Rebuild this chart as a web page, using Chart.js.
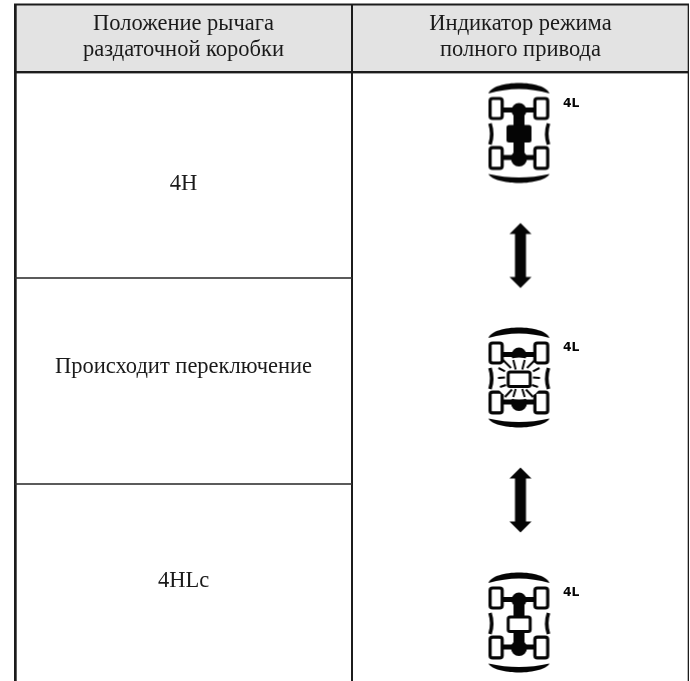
<!DOCTYPE html>
<html lang="ru">
<head>
<meta charset="utf-8">
<title>Индикатор режима полного привода</title>
<style>
  html, body { margin: 0; background: #fff; }
  canvas { display: block; filter: blur(0.35px); } /* the scan is a little soft */
</style>
</head>
<body>
<canvas id="chart" width="690" height="681"></canvas>
<script src="https://cdn.jsdelivr.net/npm/chart.js@4"></script>
<script>
/* DATA */
const columns = ["Положение рычага раздаточной коробки", "Индикатор режима полного привода"];
const headerLines = [
  ["Положение рычага", "раздаточной коробки"],
  ["Индикатор режима", "полного привода"],
];
const rowLabels = ["4H", "Происходит переключение", "4HLc"];
const rowLabelBaselines = [190, 373, 587];

// stacked row heights, one value per column (the right column is one merged cell)
const topMargin = [4, 4];
const headerRow = [68, 68];
const row4H = [206, 609];
const rowSwitching = [206, 0];
const row4HLc = [197, 0];

const indicatorLabel = "4L";
const iconCentres = [133.5, 378, 623];
const arrowCentres = [255.5, 500];

/* ICONS */
const ink = "#050505";

function roundBox(c, x, y, w, h, r) {
  c.beginPath();
  c.roundRect(x, y, w, h, r);
}

function makeIcon(state) {
  const cv = document.createElement("canvas");
  cv.width = 80;
  cv.height = 120;
  const c = cv.getContext("2d");
  c.translate(38.5, 60);
  c.fillStyle = ink;
  c.strokeStyle = ink;

  // body arcs
  c.beginPath();
  c.moveTo(-30.5, -40);
  c.bezierCurveTo(-28, -47, -14, -50.5, 0, -50.5);
  c.bezierCurveTo(14, -50.5, 28, -47, 30.5, -40);
  c.bezierCurveTo(20, -43, 10, -44.5, 0, -44.5);
  c.bezierCurveTo(-10, -44.5, -20, -43, -30.5, -40);
  c.fill();
  c.beginPath();
  c.moveTo(-30.5, 40.5);
  c.bezierCurveTo(-28, 46, -14, 49.5, 0, 49.5);
  c.bezierCurveTo(14, 49.5, 28, 46, 30.5, 40.5);
  c.bezierCurveTo(20, 43, 10, 44, 0, 44);
  c.bezierCurveTo(-10, 44, -20, 43, -30.5, 40.5);
  c.fill();

  // side pieces
  c.lineWidth = 3.6;
  c.beginPath();
  c.moveTo(-29, -10);
  c.quadraticCurveTo(-25.5, 0.5, -29, 11);
  c.moveTo(29.5, -10);
  c.quadraticCurveTo(26, 0.5, 29.5, 11);
  c.stroke();

  // axles, spine and diff housings
  c.fillRect(-16, -26, 32, 5);
  c.fillRect(-16, 21.5, 32, 5);
  c.fillRect(-5.5, -23, 11, 47);
  c.beginPath();
  c.arc(0, -23, 7.5, 0, Math.PI * 2);
  c.arc(0, 25, 8, 0, Math.PI * 2);
  c.fill();

  // wheels
  c.lineWidth = 3.2;
  [[-28.9, -35, 12.1, 20], [15.9, -35, 12.8, 20], [-28.9, 14.1, 12.1, 20.8], [15.9, 14.1, 12.8, 20.8]].forEach(([x, y, w, h]) => {
    c.fillStyle = "#fff";
    roundBox(c, x, y, w, h, 2.5);
    c.fill();
    c.stroke();
  });

  if (state === "flash") {
    // clear the middle and put the rays round the transfer case
    c.fillStyle = "#fff";
    c.beginPath();
    c.ellipse(0, 0.5, 24, 21, 0, 0, Math.PI * 2);
    c.fill();
    c.lineWidth = 2;
    c.beginPath();
    [[-21, 0, -14, -0.5], [-20.5, -10, -14, -6.7], [-16, -18, -8, -10], [-5.7, -18, -3.3, -8.5],
     [21, 0, 14, -0.5], [20.5, -10, 14, -6.7], [16, -18, 8, -10], [5.7, -18, 3.3, -8.5],
     [-19, 9, -13, 7], [-14, 19, -7, 11.5], [-5.7, 19, -3.3, 11],
     [19, 9, 13, 7], [14, 19, 7, 11.5], [5.7, 19, 3.3, 11]].forEach(([x1, y1, x2, y2]) => {
      c.moveTo(x1, y1);
      c.lineTo(x2, y2);
    });
    c.stroke();
  } else {
    c.fillStyle = ink;
  }

  // transfer case
  if (state === "on") {
    roundBox(c, -12.5, -8.5, 25, 17.5, 2.5);
    c.fillStyle = ink;
    c.fill();
  } else {
    c.fillStyle = "#fff";
    c.lineWidth = 3;
    roundBox(c, -10.8, -6, 22, 14.5, 2);
    c.fill();
    c.stroke();
  }
  return cv;
}

function makeArrow() {
  const cv = document.createElement("canvas");
  cv.width = 30;
  cv.height = 70;
  const c = cv.getContext("2d");
  c.translate(15, 35);
  c.fillStyle = ink;
  c.beginPath();
  c.moveTo(0, -32.5);
  c.lineTo(11, -21.5);
  c.lineTo(5.5, -21.5);
  c.lineTo(5.5, 21.5);
  c.lineTo(11, 21.5);
  c.lineTo(0, 32.5);
  c.lineTo(-11, 21.5);
  c.lineTo(-5.5, 21.5);
  c.lineTo(-5.5, -21.5);
  c.lineTo(-11, -21.5);
  c.closePath();
  c.fill();
  return cv;
}

/* TABLE RULES AND TEXT */
const tablePlugin = {
  id: "tablePlugin",
  afterDatasetsDraw(chart) {
    const { ctx, chartArea, scales } = chart;
    const bar = (ds, col) => chart.getDatasetMeta(ds).data[col];

    ctx.save();
    ctx.fillStyle = "#1c1c1c";
    const left = chartArea.left;
    const right = chartArea.right;
    const mid = (bar(0, 0).x + bar(0, 1).x) / 2;
    const headerTop = bar(1, 0).base;
    const headerBottom = bar(1, 0).y;

    ctx.fillRect(left - 1, headerTop - 0.5, right - left + 1, 2);
    ctx.fillRect(left - 1, headerBottom - 1, right - left + 1, 2.4);
    ctx.fillRect(left - 1, headerTop, 2.7, chartArea.bottom - headerTop);
    ctx.fillRect(mid - 1, headerTop, 2, chartArea.bottom - headerTop);
    ctx.fillRect(right - 1.3, headerTop, 1.3, chartArea.bottom - headerTop);
    // row rules stop at the merged cell
    ctx.fillStyle = "#333";
    [2, 3].forEach((ds) => {
      ctx.fillRect(left, bar(ds, 0).y - 0.8, mid - left, 1.6);
    });

    ctx.fillStyle = "#1a1a1a";
    ctx.textAlign = "center";
    ctx.textBaseline = "alphabetic";
    ctx.font = '22.5px "Liberation Serif"';
    headerLines.forEach((lines, col) => {
      const x = scales.x.getPixelForValue(col);
      lines.forEach((line, i) => ctx.fillText(line, x, scales.y.getPixelForValue(30 + i * 26)));
    });
    rowLabels.forEach((label, i) => {
      ctx.fillText(label, scales.x.getPixelForValue(0), scales.y.getPixelForValue(rowLabelBaselines[i]));
    });

    ctx.fillStyle = ink;
    ctx.textAlign = "left";
    ctx.textBaseline = "middle";
    ctx.font = 'bold 12.3px "DejaVu Sans"';
    iconCentres.forEach((cy) => {
      ctx.fillText(indicatorLabel, scales.x.getPixelForValue(1) + 42.5, scales.y.getPixelForValue(cy - 30));
    });
    ctx.restore();
  },
};

/* CHART */
new Chart(document.getElementById("chart"), {
  data: {
    labels: columns,
    datasets: [
      { type: "bar", order: 1, label: "margin", data: topMargin, backgroundColor: "#fff" },
      { type: "bar", order: 1, label: "header", data: headerRow, backgroundColor: "#e3e3e3" },
      { type: "bar", order: 1, label: rowLabels[0], data: row4H, backgroundColor: "#fff" },
      { type: "bar", order: 1, label: rowLabels[1], data: rowSwitching, backgroundColor: "#fff" },
      { type: "bar", order: 1, label: rowLabels[2], data: row4HLc, backgroundColor: "#fff" },
      {
        type: "line",
        order: 0,
        label: "indicator",
        stack: "icons",
        showLine: false,
        data: iconCentres.map((y) => ({ x: columns[1], y })),
        pointStyle: [makeIcon("on"), makeIcon("flash"), makeIcon("off")],
        pointRadius: 5,
      },
      {
        type: "line",
        order: 0,
        label: "arrows",
        stack: "arrows",
        showLine: false,
        data: arrowCentres.map((y) => ({ x: columns[1], y })),
        pointStyle: makeArrow(),
        pointRadius: 5,
      },
    ],
  },
  plugins: [tablePlugin],
  options: {
    responsive: false,
    animation: false,
    layout: { autoPadding: false, padding: { left: 15, right: 1, top: 0, bottom: 0 } },
    datasets: { bar: { barPercentage: 1, categoryPercentage: 1 } },
    plugins: {
      legend: { display: false },
      tooltip: { enabled: false },
    },
    scales: {
      x: { display: false, stacked: true },
      y: { display: false, stacked: true, reverse: true, min: 0, max: 681 },
    },
  },
});
</script>
</body>
</html>
